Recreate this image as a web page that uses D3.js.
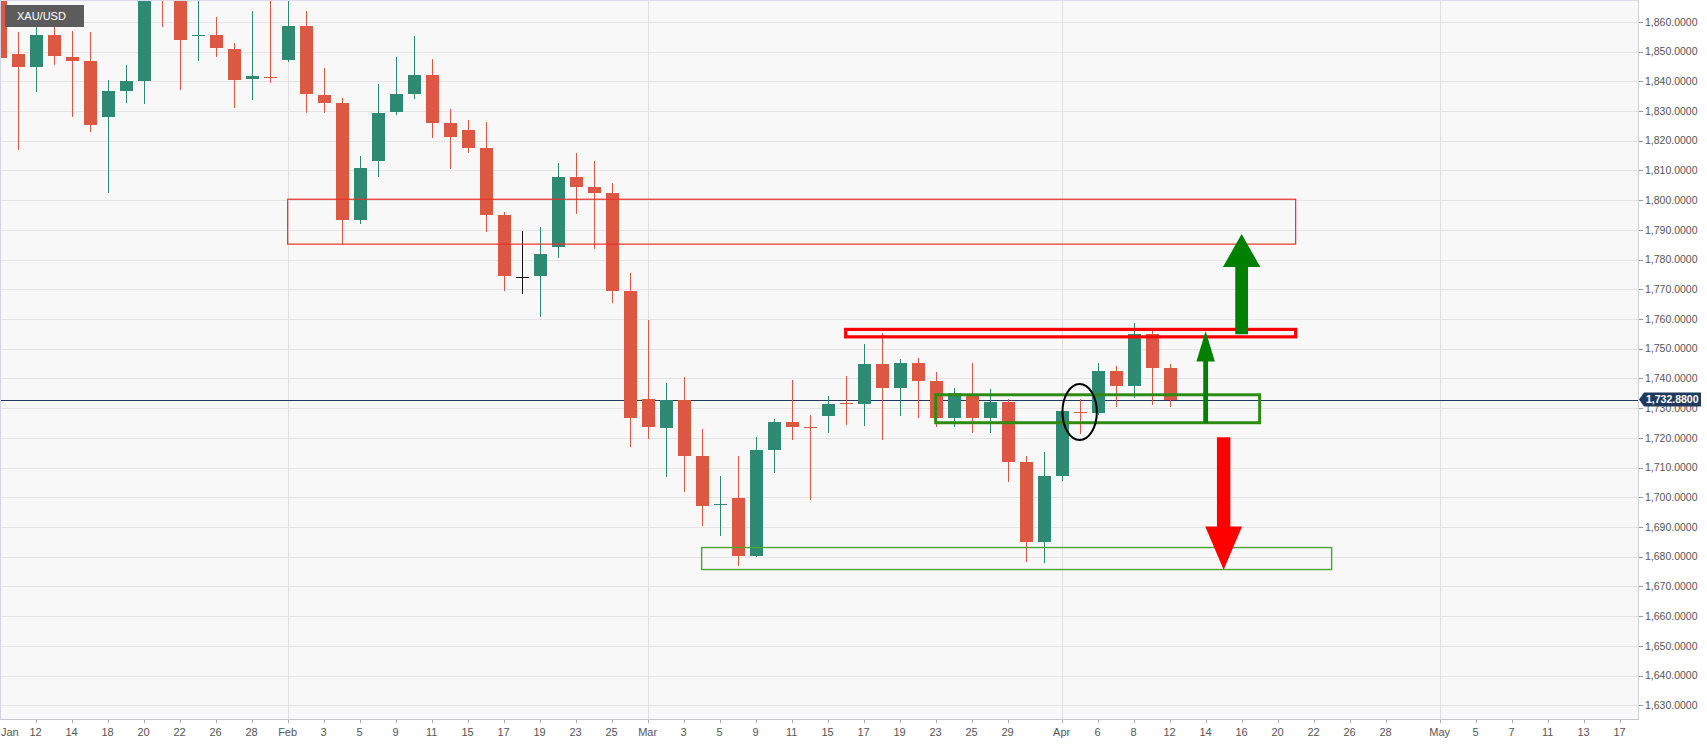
<!DOCTYPE html>
<html><head><meta charset="utf-8">
<script src="https://cdn.jsdelivr.net/npm/d3@7"></script>
<style>
html,body{margin:0;padding:0;background:#fff;overflow:hidden}
svg{display:block}
</style></head><body>
<svg id="c" width="1707" height="744"></svg>
<script>
// ---------------- DATA ----------------
const symbol = "XAU/USD";
const dates = [
 "2021-01-08","2021-01-11","2021-01-12","2021-01-13","2021-01-14","2021-01-15",
 "2021-01-18","2021-01-19","2021-01-20","2021-01-21","2021-01-22",
 "2021-01-25","2021-01-26","2021-01-27","2021-01-28","2021-01-29",
 "2021-02-01","2021-02-02","2021-02-03","2021-02-04","2021-02-05",
 "2021-02-08","2021-02-09","2021-02-10","2021-02-11","2021-02-12",
 "2021-02-15","2021-02-16","2021-02-17","2021-02-18","2021-02-19",
 "2021-02-22","2021-02-23","2021-02-24","2021-02-25","2021-02-26",
 "2021-03-01","2021-03-02","2021-03-03","2021-03-04","2021-03-05",
 "2021-03-08","2021-03-09","2021-03-10","2021-03-11","2021-03-12",
 "2021-03-15","2021-03-16","2021-03-17","2021-03-18","2021-03-19",
 "2021-03-22","2021-03-23","2021-03-24","2021-03-25","2021-03-26",
 "2021-03-29","2021-03-30","2021-03-31","2021-04-01",
 "2021-04-05","2021-04-06","2021-04-07","2021-04-08","2021-04-09","2021-04-12"
];
const open = [
 1913.0,1849.2,1844.8,1855.6,1848.2,1846.8,1828.0,1836.7,1840.1,1871.0,1869.5,
 1855.2,1855.6,1850.8,1840.8,1841.6,1847.1,1858.6,1835.4,1832.7,1793.3,
 1813.2,1829.7,1835.7,1842.1,1826.0,1823.6,1817.5,1795.0,1774.2,1774.5,
 1784.2,1807.8,1804.4,1802.4,1769.4,1733.1,1723.3,1732.7,1713.9,1697.4,
 1699.8,1680.3,1715.9,1725.3,1723.5,1727.4,1731.6,1731.4,1744.9,1736.8,
 1745.2,1739.0,1726.7,1734.8,1726.7,1732.1,1711.9,1685.0,1707.2,
 1728.6,1728.3,1742.5,1737.5,1754.9,1743.5
];
const high = [
 1917.0,1856.6,1859.3,1859.9,1856.9,1856.6,1840.4,1845.5,1875.0,1875.5,1869.8,
 1868.0,1861.6,1852.9,1863.6,1870.0,1875.0,1863.6,1844.5,1834.4,1814.8,
 1839.1,1848.2,1855.2,1847.5,1830.6,1827.0,1826.3,1796.0,1789.6,1791.0,
 1812.5,1815.9,1813.2,1805.8,1775.5,1759.7,1738.5,1740.5,1723.0,1707.2,
 1713.9,1720.3,1726.4,1739.5,1727.7,1734.1,1740.8,1751.6,1755.2,1746.5,
 1746.9,1742.2,1736.8,1745.2,1736.4,1733.1,1713.9,1715.3,1729.7,
 1733.1,1745.2,1744.2,1758.6,1757.0,1744.8
];
const low = [
 1828.0,1816.9,1836.4,1845.5,1828.0,1822.9,1802.4,1832.7,1832.3,1858.3,1837.1,
 1846.8,1848.2,1831.0,1833.7,1839.4,1846.5,1829.3,1829.3,1784.9,1792.0,
 1807.8,1828.6,1834.0,1820.9,1810.5,1815.9,1789.3,1769.4,1768.4,1760.7,
 1780.5,1795.3,1783.5,1765.4,1716.9,1719.6,1706.8,1701.8,1690.4,1687.0,
 1676.9,1680.0,1708.2,1719.3,1699.1,1721.7,1724.3,1724.0,1719.3,1727.4,
 1726.7,1723.7,1723.7,1721.7,1721.7,1705.2,1678.4,1677.9,1705.5,
 1721.4,1727.6,1730.4,1733.4,1731.1,1730.4
];
const close = [
 1847.8,1844.8,1855.6,1848.5,1846.8,1825.3,1836.7,1840.1,1871.0,1869.5,1853.9,
 1855.6,1851.2,1840.4,1841.8,1841.2,1858.6,1835.7,1832.7,1793.3,1810.8,
 1829.3,1835.7,1842.1,1826.0,1821.2,1817.5,1795.0,1774.5,1774.2,1781.9,
 1807.8,1804.4,1802.4,1769.4,1726.7,1723.7,1732.7,1713.9,1697.1,1697.8,
 1680.3,1715.9,1725.3,1723.7,1723.3,1731.4,1731.2,1744.9,1736.8,1745.2,
 1739.2,1726.7,1735.1,1726.7,1732.1,1711.9,1685.0,1707.2,1729.1,
 1728.3,1742.5,1737.5,1754.9,1743.5,1732.88
];
const futureDates = [
 "2021-04-13","2021-04-14","2021-04-15","2021-04-16","2021-04-19","2021-04-20",
 "2021-04-21","2021-04-22","2021-04-23","2021-04-26","2021-04-27","2021-04-28",
 "2021-04-29","2021-04-30","2021-05-03","2021-05-04","2021-05-05","2021-05-06",
 "2021-05-07","2021-05-10","2021-05-11","2021-05-12","2021-05-13","2021-05-14","2021-05-17"
];
const tickDates = [
 "2021-01-08","2021-01-12","2021-01-14","2021-01-18","2021-01-20","2021-01-22","2021-01-26","2021-01-28",
 "2021-02-01","2021-02-03","2021-02-05","2021-02-09","2021-02-11","2021-02-15","2021-02-17","2021-02-19","2021-02-23","2021-02-25",
 "2021-03-01","2021-03-03","2021-03-05","2021-03-09","2021-03-11","2021-03-15","2021-03-17","2021-03-19","2021-03-23","2021-03-25","2021-03-29",
 "2021-04-01","2021-04-06","2021-04-08","2021-04-12","2021-04-14","2021-04-16","2021-04-20","2021-04-22","2021-04-26","2021-04-28",
 "2021-05-03","2021-05-05","2021-05-07","2021-05-11","2021-05-13","2021-05-17"
];
const tickLabels = [
 "Jan","12","14","18","20","22","26","28",
 "Feb","3","5","9","11","15","17","19","23","25",
 "Mar","3","5","9","11","15","17","19","23","25","29",
 "Apr","6","8","12","14","16","20","22","26","28",
 "May","5","7","11","13","17"
];
const monthStarts = ["2021-02-01","2021-03-01","2021-04-01","2021-05-03"];
const priceTicks = d3.range(1630, 1861, 10);
const lastPrice = 1732.88;

// annotation zones (date span + price span)
const zoneFrom   = ["2021-02-01","2021-03-16","2021-03-23","2021-03-04"];
const zoneTo     = ["2021-04-21","2021-04-21","2021-04-19","2021-04-23"];
const zoneTop    = [1800.3, 1756.5, 1734.5, 1683.1];
const zoneBottom = [1785.2, 1754.0, 1725.1, 1675.7];
// arrows (date + price from -> price to)
const arrowDates = ["2021-04-16","2021-04-14","2021-04-15"];
const arrowFrom  = [1754.9, 1725.0, 1720.2];
const arrowTo    = [1788.6, 1756.0, 1675.6];
// circled candle
const markDate = "2021-04-05";
const markPrice = 1728.7;

// ---------------- STYLES / LAYOUT ----------------
const W = 1707, H = 744, plotW = 1638, plotH = 719;
const UP = "#2e8a72", DOWN = "#dc5843", DOJI = "#111";
const zoneStyles = [
  {stroke:"#e8322c", width:1.2},
  {stroke:"#ff0000", width:3.2},
  {stroke:"#2f8a12", width:3.0},
  {stroke:"#4fa336", width:1.4}
];
const arrowStyles = [
  {fill:"#008000", head:33, headHalf:18.7, shaftHalf:6.4},
  {fill:"#008000", head:30.7, headHalf:9.2, shaftHalf:2.4},
  {fill:"#ff0000", head:43.3, headHalf:18.4, shaftHalf:6.7}
];

const svg = d3.select("#c");
const allDates = dates.concat(futureDates);
const idx = d => allDates.indexOf(d);
const x = d3.scaleLinear().domain([0.02, 91.02]).range([0, plotW]);
const y = d3.scaleLinear().domain([1625.4, 1867.35]).range([plotH, 0]);
const step = x(1) - x(0);
const bw = step * 0.7;
const FONT = "'Liberation Sans', Arial, sans-serif";

svg.append("rect").attr("width", W).attr("height", H).attr("fill", "#ffffff");
svg.append("rect").attr("width", plotW).attr("height", plotH).attr("fill", "#f8f8f8");

svg.append("defs").append("clipPath").attr("id", "clip")
  .append("rect").attr("width", plotW).attr("height", plotH);

const grid = svg.append("g").attr("shape-rendering", "crispEdges");
grid.selectAll("line.h").data(priceTicks).join("line")
  .attr("x1", 0).attr("x2", plotW)
  .attr("y1", d => Math.round(y(d)) + 0.5).attr("y2", d => Math.round(y(d)) + 0.5)
  .attr("stroke", "#e4e4e6");
grid.selectAll("line.v").data(monthStarts).join("line")
  .attr("y1", 0).attr("y2", plotH)
  .attr("x1", d => Math.round(x(idx(d))) + 0.5).attr("x2", d => Math.round(x(idx(d))) + 0.5)
  .attr("stroke", "#e0e0e2");

const plot = svg.append("g").attr("clip-path", "url(#clip)");

// last price line
plot.append("line").attr("x1", 0).attr("x2", plotW)
  .attr("y1", Math.round(y(lastPrice)) + 0.5).attr("y2", Math.round(y(lastPrice)) + 0.5)
  .attr("stroke", "#1f3a5d").attr("stroke-width", 1).attr("shape-rendering", "crispEdges");

// candles
const candles = dates.map((d, i) => ({d, i, o: open[i], h: high[i], l: low[i], c: close[i]}));
const col = k => k.c > k.o ? UP : (k.c < k.o ? DOWN : DOJI);
const cg = plot.append("g").attr("shape-rendering", "crispEdges");
cg.selectAll("line.wick").data(candles).join("line")
  .attr("x1", k => Math.round(x(k.i)) + 0.5).attr("x2", k => Math.round(x(k.i)) + 0.5)
  .attr("y1", k => y(k.h)).attr("y2", k => y(k.l))
  .attr("stroke", col).attr("stroke-width", 1);
cg.selectAll("rect.body").data(candles).join("rect")
  .attr("x", k => Math.round(x(k.i) - bw / 2) + 0.5)
  .attr("width", Math.round(bw))
  .attr("y", k => Math.round(y(Math.max(k.o, k.c))))
  .attr("height", k => Math.max(1, Math.round(Math.abs(y(k.o) - y(k.c)))))
  .attr("fill", col);

// zones
const zg = plot.append("g");
zoneFrom.forEach((f, j) => {
  const x0 = x(idx(f)), x1 = x(idx(zoneTo[j]));
  const y0 = y(zoneTop[j]), y1 = y(zoneBottom[j]);
  zg.append("rect").attr("x", x0).attr("y", y0).attr("width", x1 - x0).attr("height", y1 - y0)
    .attr("fill", "none").attr("stroke", zoneStyles[j].stroke).attr("stroke-width", zoneStyles[j].width);
});

// ellipse mark
plot.append("ellipse").attr("cx", x(idx(markDate))).attr("cy", y(markPrice))
  .attr("rx", step * 0.955).attr("ry", 28)
  .attr("fill", "none").attr("stroke", "#000").attr("stroke-width", 2);

// arrows
arrowDates.forEach((d, j) => {
  const s = arrowStyles[j];
  const cx = x(idx(d)), yb = y(arrowFrom[j]), yt = y(arrowTo[j]);
  const dir = yt < yb ? -1 : 1;
  const hb = yt - dir * s.head;
  const pts = [[cx - s.shaftHalf, yb], [cx - s.shaftHalf, hb], [cx - s.headHalf, hb], [cx, yt],
               [cx + s.headHalf, hb], [cx + s.shaftHalf, hb], [cx + s.shaftHalf, yb]];
  plot.append("path").attr("d", d3.line()(pts) + "Z").attr("fill", s.fill);
});

// plot border
svg.append("line").attr("x1", 0.5).attr("x2", 0.5).attr("y1", 0).attr("y2", plotH).attr("stroke", "#d4d4e6");
svg.append("line").attr("x1", 0).attr("x2", plotW).attr("y1", 0.5).attr("y2", 0.5).attr("stroke", "#dcdcea");
svg.append("line").attr("x1", plotW + 0.5).attr("x2", plotW + 0.5).attr("y1", 0).attr("y2", plotH).attr("stroke", "#d0d0d6");
svg.append("line").attr("x1", 0).attr("x2", plotW + 1).attr("y1", plotH + 0.5).attr("y2", plotH + 0.5).attr("stroke", "#c8c8ce");

// y axis
const ya = svg.append("g");
const fmt = d3.format(",.4f");
priceTicks.forEach(p => {
  const yy = Math.round(y(p)) + 0.5;
  ya.append("line").attr("x1", plotW + 1).attr("x2", plotW + 5).attr("y1", yy).attr("y2", yy).attr("stroke", "#9a9a9a");
  ya.append("text").attr("x", plotW + 7).attr("y", y(p)).attr("dy", "0.35em")
    .attr("font-family", FONT).attr("font-size", "10.5px").attr("fill", "#555").text(fmt(p));
});
// last price tag
const ly = y(lastPrice);
ya.append("path").attr("d", `M${plotW + 1},${ly} L${plotW + 6},${ly - 7} L${plotW + 63},${ly - 7} L${plotW + 63},${ly + 7} L${plotW + 6},${ly + 7} Z`)
  .attr("fill", "#1f3a5d");
ya.append("text").attr("x", plotW + 8).attr("y", ly).attr("dy", "0.36em")
  .attr("font-family", FONT).attr("font-size", "10.5px").attr("font-weight", "bold").attr("fill", "#fff")
  .text(fmt(lastPrice));

// x axis
const xa = svg.append("g");
tickDates.forEach((d, j) => {
  let xx = x(idx(d));
  const t = xa.append("text").attr("y", plotH + 13).attr("dy", "0.35em")
    .attr("font-family", FONT).attr("font-size", "11px").attr("fill", "#555")
    .attr("text-anchor", "middle").text(tickLabels[j]);
  const w = t.node().getComputedTextLength();
  if (xx - w / 2 < 1) { xx = w / 2 + 1; }
  else {
    xa.append("line").attr("x1", Math.round(xx) + 0.5).attr("x2", Math.round(xx) + 0.5)
      .attr("y1", plotH + 1).attr("y2", plotH + 4).attr("stroke", "#aaa");
  }
  t.attr("x", xx);
});

// symbol badge
svg.append("rect").attr("x", 5).attr("y", 5).attr("width", 79).attr("height", 22).attr("fill", "#5c5c5c");
svg.append("text").attr("x", 17).attr("y", 16).attr("dy", "0.35em")
  .attr("font-family", FONT).attr("font-size", "11px").attr("fill", "#fff").text(symbol);
</script>
</body></html>
